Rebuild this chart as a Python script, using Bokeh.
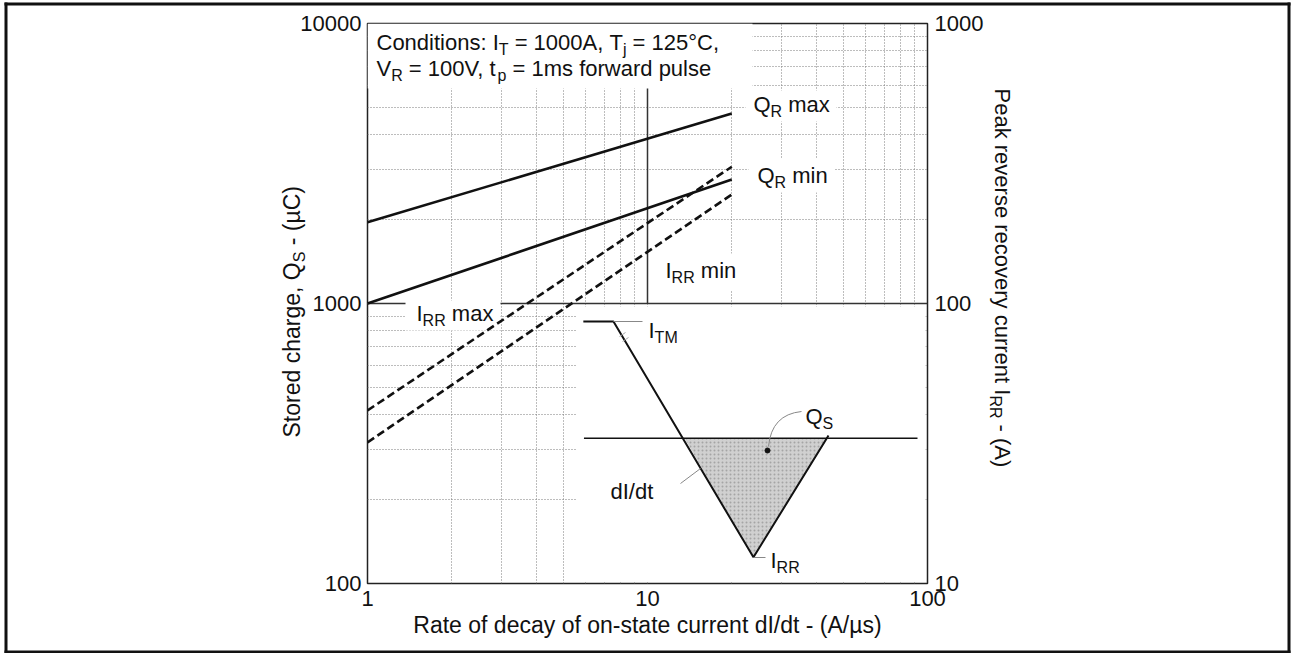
import math
from bokeh.plotting import figure
from bokeh.models import Range1d, LogAxis, FixedTicker, Label, LogScale, BasicTickFormatter
from bokeh.embed import file_html
from bokeh.resources import INLINE

# ---------------- data ----------------
didt = [1, 20]                 # A/us
qr_max = [1950, 4770]          # uC
qr_min = [1000, 2770]          # uC
irr_max = [41.5, 308]          # A (right axis)
irr_min = [31.9, 245]          # A (right axis)

x_ticks = [1, 10, 100]
y_ticks = [100, 1000, 10000]
y2_ticks = [10, 100, 1000]

# inset schematic of the recovery waveform (in chart data units)
wave_x = [5.9, 7.56, 23.9, 44.3]
wave_y = [862, 862, 124, 338]
zero_x = [5.93, 92.1]
zero_y = [330, 330]
qs_x = [13.56, 23.91, 43.95]
qs_y = [330, 123.8, 330]

FONT = "Liberation Sans"
INK = "#111111"
GRID = "#7a7a7a"

# ---------------- page geometry (page pixels) ----------------
PW, PH = 1295, 653
FL, FT, DEC = 367.0, 23.0, 280.0    # frame left/top and decade size in page px

def X(px):
    return 10 ** ((px - FL) / DEC)
def Y(py):
    return 10 ** (4 - (py - FT) / DEC)

# ---------------- main chart ----------------
p = figure(width=PW, height=PH, x_axis_type="log", y_axis_type="log",
           x_range=Range1d(1, 100), y_range=Range1d(100, 10000),
           output_backend="svg", toolbar_location=None,
           min_border_left=int(FL), min_border_right=int(PW - FL - 2 * DEC),
           min_border_top=int(FT), min_border_bottom=int(PH - FT - 2 * DEC),
           background_fill_color="white", border_fill_color="white")

p.extra_y_ranges = {"irr": Range1d(10, 1000)}
p.extra_y_scales = {"irr": LogScale()}

minor_x = [m * d for d in (1, 10) for m in range(2, 10)]
minor_y = [m * d for d in (100, 1000) for m in range(2, 10)]
p.xaxis.ticker = FixedTicker(ticks=x_ticks, minor_ticks=minor_x)
p.yaxis.ticker = FixedTicker(ticks=y_ticks, minor_ticks=minor_y)
p.xgrid.ticker = FixedTicker(ticks=x_ticks, minor_ticks=minor_x)
p.ygrid.ticker = FixedTicker(ticks=y_ticks, minor_ticks=minor_y)

ax2 = LogAxis(y_range_name="irr", ticker=FixedTicker(ticks=y2_ticks))
p.add_layout(ax2, "right")

for ax, ticks in ((p.xaxis[0], x_ticks), (p.yaxis[0], y_ticks), (ax2, y2_ticks)):
    ax.formatter = BasicTickFormatter()
    ax.major_label_overrides = {t: str(t) for t in ticks}
    ax.major_tick_line_color = None
    ax.minor_tick_line_color = None
    ax.major_tick_out = 0
    ax.major_tick_in = 0
    ax.minor_tick_out = 0
    ax.minor_tick_in = 0
    ax.axis_line_color = None
    ax.major_label_text_font = FONT
    ax.major_label_text_font_size = "22px"
    ax.major_label_text_color = INK
    ax.major_label_standoff = 6
ax2.major_label_standoff = 7
p.xaxis[0].major_label_standoff = 7

for g in (p.xgrid[0], p.ygrid[0]):
    g.grid_line_color = GRID
    g.grid_line_dash = "1 2"
    g.minor_grid_line_color = GRID
    g.minor_grid_line_dash = "1 2"
    g.grid_line_width = 1
    g.minor_grid_line_width = 1

p.outline_line_color = "#222222"
p.outline_line_width = 1.5

# dark reference lines at x=10 (upper half) and y=1000
p.line([10, 10], [1000, 10000], line_color="#333333", line_width=1.5)
p.line([1, 100], [1000, 1000], line_color="#333333", line_width=1.5)

# white label / inset backgrounds (page px: left, right, top, bottom)
boxes = [(367, 752, 23, 88),     # conditions
         (745, 836, 90, 121),    # QR max
         (748, 834, 158, 192),   # QR min
         (655, 750, 253, 290),   # IRR min
         (405, 500, 300, 330),   # IRR max
         (576, 925, 306, 581)]   # inset
p.quad(left=[X(b[0]) for b in boxes], right=[X(b[1]) for b in boxes],
       top=[Y(b[2]) for b in boxes], bottom=[Y(b[3]) for b in boxes],
       fill_color="white", line_color=None)

# data curves
p.line(didt, qr_max, line_color=INK, line_width=2.6)
p.line(didt, qr_min, line_color=INK, line_width=2.6)
p.line(didt, irr_max, y_range_name="irr", line_color=INK, line_width=2.6, line_dash="8 4")
p.line(didt, irr_min, y_range_name="irr", line_color=INK, line_width=2.6, line_dash="8 4")

# inset schematic
p.patch(qs_x, qs_y, fill_color="#d0d0d0", line_color=None,
        hatch_pattern="dot", hatch_color="#9a9a9a", hatch_scale=4, hatch_alpha=0.8)
p.line(zero_x, zero_y, line_color=INK, line_width=1.5)
p.line(wave_x, wave_y, line_color=INK, line_width=2)
p.line([X(613), X(642)], [Y(321), Y(321)], line_color="#888888", line_width=1)
p.line([X(700), X(680)], [Y(468), Y(483)], line_color="#888888", line_width=1)
p.line([X(753), X(765)], [Y(557), Y(557)], line_color="#888888", line_width=1)
p.quadratic(x0=[X(768)], y0=[Y(446)], x1=[X(801)], y1=[Y(411)], cx=[X(771)], cy=[Y(414)],
            line_color="#888888", line_width=1)
p.line([X(619), X(625)], [Y(336), Y(332)], line_color="#aaaaaa", line_width=1)
p.line([X(622), X(628)], [Y(341), Y(337)], line_color="#aaaaaa", line_width=1)
p.scatter([X(767)], [Y(450)], size=5, color=INK)

# ---------------- transparent overlay for titles, annotations and page border ----------------
ov = figure(width=PW, height=PH, x_range=Range1d(0, PW), y_range=Range1d(0, PH),
            output_backend="svg", toolbar_location=None,
            x_axis_location=None, y_axis_location=None,
            min_border=0, min_border_left=0, min_border_right=0,
            min_border_top=0, min_border_bottom=0,
            background_fill_color=None, border_fill_color=None, outline_line_color=None)
ov.xgrid.visible = False
ov.ygrid.visible = False
ov.styles = {"position": "absolute", "left": "0px", "top": "0px"}

# page border (left, right, top, bottom in page px)
BX0, BX1, BY0, BY1, BT = 4, 1290, 2, 653, 3
brd = [(BX0, BX0 + BT, BY0, BY1), (BX1 - BT, BX1, BY0, BY1),
       (BX0, BX1, BY0, BY0 + BT), (BX0, BX1, BY1 - BT, BY1)]
ov.quad(left=[b[0] for b in brd], right=[b[1] for b in brd],
        top=[PH - b[2] for b in brd], bottom=[PH - b[3] for b in brd],
        fill_color=INK, line_color=None)

# ---------------- text ----------------
W = {' ': 278, '\u00a0': 278, ',': 278, '.': 278, ':': 278, '=': 584, '-': 333, '(': 333,
     ')': 333, '/': 278, '°': 400, 'µ': 556, 'A': 667, 'C': 722, 'I': 278, 'M': 833,
     'P': 667, 'Q': 778, 'R': 722, 'S': 667, 'T': 611, 'V': 667, 'a': 556, 'c': 500,
     'd': 556, 'e': 556, 'f': 278, 'g': 556, 'h': 556, 'i': 222, 'j': 222, 'k': 500,
     'l': 222, 'm': 833, 'n': 556, 'o': 556, 'p': 556, 'r': 333, 's': 500, 't': 278,
     'u': 556, 'v': 500, 'w': 722, 'x': 500, 'y': 500}
KB = 0.33   # measured offset of the rendered baseline below the anchor (fraction of size)

def tw(s, size):
    return sum(W.get(c, 556) for c in s) * size / 1000.0

def put(text, px, py, size, angle=0, align="left"):
    # (px, py) is the wanted baseline start in page px
    k = KB * size
    if angle == 0:
        ax_, ay_, a = px, py - k, 0.0
    elif angle == 90:
        ax_, ay_, a = px - k, py, math.pi / 2
    else:
        ax_, ay_, a = px + k, py, -math.pi / 2
    ov.add_layout(Label(x=ax_, y=PH - ay_, text=text.replace(" ", "\u00a0"), angle=a,
                        text_font=FONT, text_font_size=f"{size}px", text_color=INK,
                        text_align=align, text_baseline="alphabetic"))

def rich(runs, px, py, angle=0, size=22, sub=16, shift=5):
    pos = 0.0
    for t, is_sub in runs:
        fs = sub if is_sub else size
        d = shift if is_sub else 0
        if angle == 0:
            put(t, px + pos, py + d, fs)
        elif angle == 90:
            put(t, px + d, py - pos, fs, angle=90)
        else:
            put(t, px - d, py + pos, fs, angle=-90)
        pos += tw(t, fs)

rich([("Conditions: I", 0), ("T", 1), (" = 1000A, T", 0), ("j", 1), (" = 125°C,", 0)], 376, 49.5)
rich([("V", 0), ("R", 1), (" = 100V, t", 0), ("p", 1), (" = 1ms forward pulse", 0)], 376, 75.5)
rich([("Q", 0), ("R", 1), (" max", 0)], 753, 111)
rich([("Q", 0), ("R", 1), (" min", 0)], 757, 182)
rich([("I", 0), ("RR", 1), (" min", 0)], 665, 277)
rich([("I", 0), ("RR", 1), (" max", 0)], 416, 320)
rich([("I", 0), ("TM", 1)], 648, 337)
rich([("Q", 0), ("S", 1)], 805, 423)
rich([("dI/dt", 0)], 610, 498)
rich([("I", 0), ("RR", 1)], 770, 567)

# axis titles
put("Rate of decay of on-state current dI/dt - (A/µs)", 647, 632, 23, align="center")
rich([("Stored charge, Q", 0), ("S", 1), (" - (µC)", 0)], 299, 437, angle=90, size=23)
rich([("Peak reverse recovery current I", 0), ("RR", 1), (" - (A)", 0)], 995, 88,
     angle=-90, size=22)

open("out.html", "w").write(file_html([p, ov], INLINE))
